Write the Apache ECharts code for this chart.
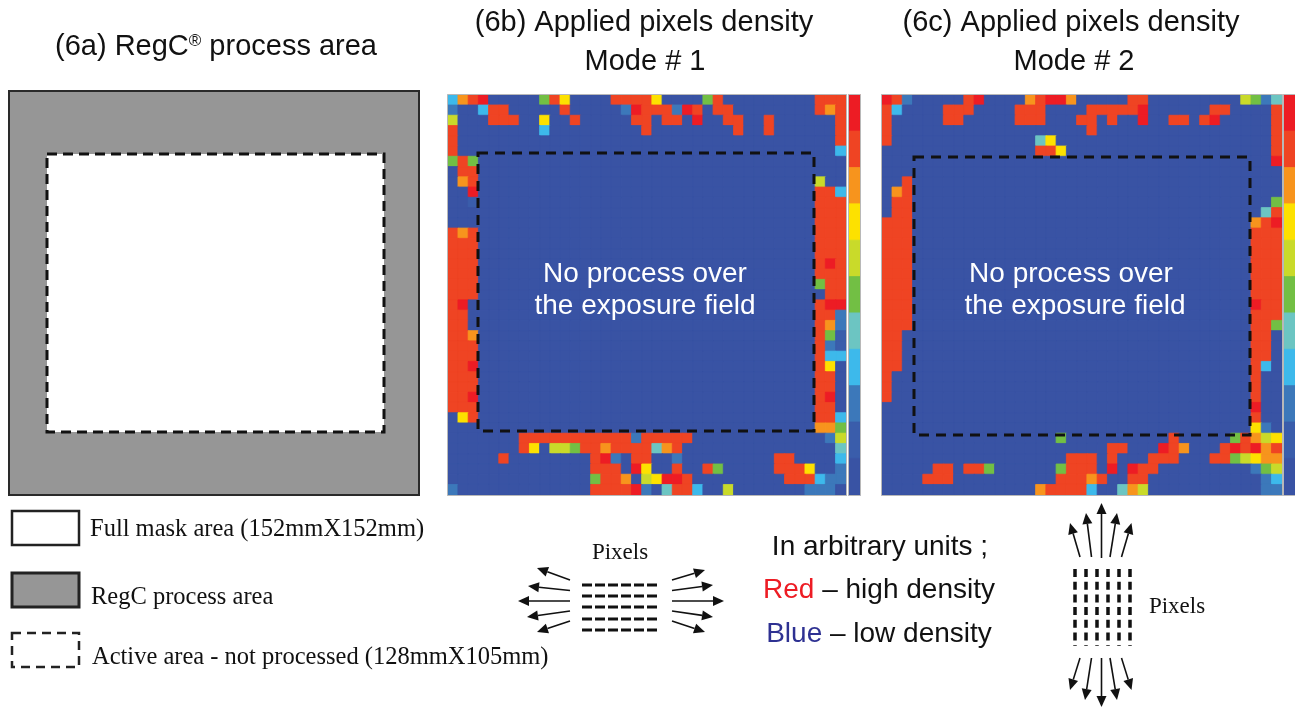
<!DOCTYPE html>
<html><head><meta charset="utf-8">
<script src="https://cdn.jsdelivr.net/npm/echarts@6/dist/echarts.min.js"></script>
<style>html,body{margin:0;padding:0;background:#fff}#c{width:1295px;height:709px}</style>
</head><body><div id="c"></div>
<script>
// ---------- DATA ----------
// density level colours, index 0 (lowest, blue) .. 10 (highest, red)
const levelColors = ['#3953a4','#3a5dab','#3c78ba','#3db9eb','#6cc5c2','#72bf44','#c9da2a','#fde100','#f7941d','#ef4423','#ed1c24'];
const nCols = 39;
const nRows = 39;
// each row: "col:level" or "colFrom-colTo:level" (X = 10); unlisted cells = level 0
const modeOneRows = [
 "0:3 1:8 2:9 3:X 9:5 10:9 11:7 16-19:9 20:7 25:5 26:9 36-38:9",
 "0:2 3:3 4-5:9 11:9 17:2 18:X 19-21:9 22:2 23:X 24:9 26-27:9 36:9 37:8 38:9",
 "0:6 4-6:9 9:7 12:9 18-19:9 21-22:9 24:X 27-28:9 31:9 38:9",
 "0:9 9:3 19:9 28:9 31:9 38:9",
 "0:9 38:9",
 "0:9 38:3",
 "0:5 1:9 2:5",
 "1-2:9",
 "1:8 2:9 36:6",
 "2:X 36-37:9 38:3",
 "2:1 36-38:9",
 "36-38:9",
 "36-38:9",
 "0:9 1:8 2:9 36-38:9",
 "0-2:9 36-38:9",
 "0-2:9 36-38:9",
 "0-2:9 36:9 37:X 38:9",
 "0-2:9 36-38:9",
 "0-2:9 36:5 37-38:9",
 "0-2:9 37-38:9",
 "0:9 1:X 36:9 37-38:X",
 "0-1:9 36-37:9 38:2",
 "0-1:9 36:9 37:8 38:2",
 "0-1:9 2:8 36:9 37:5 38:1",
 "0-2:9 36:9 37:2 38:1",
 "0-2:9 36:9 37:3 38:3",
 "0-1:9 2:X 36:9 37:7",
 "0-2:9 36-37:9",
 "0-2:9 36-37:9",
 "0-1:9 2:X 36:9 37:X",
 "0-2:9 36-37:9",
 "1:7 2:9 36-37:9 38:3",
 "36-37:8 38:5",
 "7-17:9 18:2 19-23:9 37:2 38:6",
 "7:9 8:7 10-11:6 12:5 13-14:9 15:8 16-19:9 20:4 21:8 22:9 38:4",
 "5:9 14:9 15:X 16:2 18-19:9 22:2 32-33:9 38:3",
 "14-16:9 18:X 19:7 22:9 25:9 26:5 32-34:9 35:7 38:2",
 "14:5 15-16:9 17:8 19:6 20:7 21-22:X 23:9 33-35:9 36:3 37-38:2",
 "0:2 14-17:9 18:X 19:2 21:4 22-23:9 24:3 27:6 35-37:2"
];
const modeTwoRows = [
 "0:X 1:9 2:2 8:9 9:X 14:8 15:9 16-17:X 18:8 24-25:9 35:6 36:5 37:2 38:4",
 "0:9 1:3 6-8:9 13-15:9 20-24:9 25:X 32-33:9 38:9",
 "0:9 6-7:9 13-15:9 19-20:9 22:9 25:X 28-29:9 31:9 32:X 38:9",
 "0:9 20:9 38:9",
 "0:9 15:4 16:7 38:9",
 "15-16:9 17:7 38:9",
 "38:X",
 "",
 "2:9",
 "1:8 2:9",
 "1-2:9 38:5",
 "1-2:9 37:4 38:9",
 "0-2:9 36:8 37:9 38:X",
 "0-2:9 36-38:9",
 "0-2:9 36-38:9",
 "0-2:9 36-38:9",
 "0-2:9 36-38:9",
 "0-2:9 36-38:9",
 "0-2:9 36-38:9",
 "0-2:9 36-38:9",
 "0-2:9 36:X 37-38:9",
 "0-2:9 36-38:9",
 "0-2:9 36-37:9 38:5",
 "0-1:9 36-37:9",
 "0-1:9 36-37:9",
 "0-1:9 36-37:9",
 "0-1:9 36:9 37:3",
 "0:9 36:9",
 "0:9 36:9",
 "0:9 36:9",
 "36:X",
 "36:9",
 "36:7 37:2",
 "17:5 28:9 34:5 35:9 36:8 37:6 38:7",
 "22-23:9 27:X 28:9 29:8 33:9 34:X 35:9 36:X 37:8 38:9",
 "18-20:9 22:9 26-28:9 32-33:9 34:5 35:6 36:7 37:8 38:8",
 "5-6:9 8-9:9 10:5 17:5 18-20:9 22:X 24:X 25-26:9 36:2 37:5 38:6",
 "4-6:9 17-19:9 20:8 21:9 24-25:9 37:2 38:3",
 "15:8 16-19:9 20:3 23:4 24:8 25:6 37-38:2"
];
const colorbarLevels = [10,9,8,7,6,5,4,3,2,1,0];
const panelTitles = ['(6a) RegC{s|®} process area', '(6b) Applied pixels density', 'Mode # 1', '(6c) Applied pixels density', 'Mode # 2'];
const fieldNote = ['No process over', 'the exposure field'];
const legendTexts = ['Full mask area (152mmX152mm)', 'RegC process area', 'Active area - not processed (128mmX105mm)'];
const unitTexts = ['In arbitrary units ;', '{r|Red} – high density', '{b|Blue} – low density'];
const pixelsLabel = 'Pixels';

// ---------- BUILD ----------
function parseRows(rows){
  const out=[];
  rows.forEach((s,r)=>{
    const g=new Array(nCols).fill(0);
    s.split(/\s+/).filter(Boolean).forEach(tok=>{
      const [rng,lv]=tok.split(':');
      const parts=rng.split('-').map(Number);
      const a=parts[0], b=parts.length>1?parts[1]:parts[0];
      const v=lv==='X'?10:Number(lv);
      for(let c=a;c<=b;c++) g[c]=v;
    });
    g.forEach((v,c)=>out.push([c,r,v]));
  });
  return out;
}
const withBorder = d => d.map(p=>({value:p,itemStyle:{borderColor:levelColors[p[2]],borderWidth:0.8}}));
const colCats = Array.from({length:nCols},(_,i)=>i);
const rowCats = Array.from({length:nRows},(_,i)=>i);
const cbCats = colorbarLevels.map((_,i)=>i);

const SANS='"Liberation Sans", Arial, sans-serif';
const SERIF='"Liberation Serif", "Times New Roman", serif';
const g=[];
function txt(x,y,text,size,fam,extra){
  g.push({type:'text',x:x,y:y,z:100,style:Object.assign({text:text,fontSize:size,fontFamily:fam,fill:'#111',textAlign:'center',textVerticalAlign:'middle'},extra||{})});
}
function rect(x,y,w,h,style){ g.push({type:'rect',z:100,shape:{x:x,y:y,width:w,height:h},style:style}); }
function arrow(x1,y1,x2,y2){
  const L=11,W=5, a=Math.atan2(y2-y1,x2-x1);
  const bx=x2-L*Math.cos(a), by=y2-L*Math.sin(a), px=-Math.sin(a)*W, py=Math.cos(a)*W;
  g.push({type:'line',z:100,shape:{x1:x1,y1:y1,x2:bx,y2:by},style:{stroke:'#111',lineWidth:1.6}});
  g.push({type:'polygon',z:100,shape:{points:[[x2,y2],[bx+px,by+py],[bx-px,by-py]]},style:{fill:'#111'}});
}
// titles
txt(216,47,panelTitles[0],29,SANS,{rich:{s:{fontSize:17,verticalAlign:'top',fontFamily:SANS,fill:'#111'}}});
txt(644,23,panelTitles[1],29,SANS); txt(645,62,panelTitles[2],29,SANS);
txt(1071,23,panelTitles[3],29,SANS); txt(1074,62,panelTitles[4],29,SANS);
// panel a
rect(9,91,410,404,{fill:'#969696',stroke:'#2a2a2a',lineWidth:2});
rect(47,154,337,278,{fill:'#fff',stroke:'#111',lineWidth:3,lineDash:[10,6]});
// heatmap frames + exposure field
[[447.5,94.5,399,401],[881.5,94.5,401,401],[848.5,94.5,12,401],[1283.5,94.5,14,401]].forEach(r=>rect(r[0],r[1],r[2],r[3],{fill:null,stroke:'#b8b8b8',lineWidth:1}));
rect(478,153,336,278,{fill:null,stroke:'#111',lineWidth:3,lineDash:[10,7]});
rect(914,157,336,278,{fill:null,stroke:'#111',lineWidth:3,lineDash:[10,7]});
txt(645,274,fieldNote[0],28,SANS,{fill:'#fff'}); txt(645,306,fieldNote[1],28,SANS,{fill:'#fff'});
txt(1071,274,fieldNote[0],28,SANS,{fill:'#fff'}); txt(1075,306,fieldNote[1],28,SANS,{fill:'#fff'});
// legend
rect(12,511,67,34,{fill:'#fff',stroke:'#222',lineWidth:2.5});
rect(12,573,67,34,{fill:'#969696',stroke:'#222',lineWidth:3});
rect(12,633,67,34,{fill:null,stroke:'#222',lineWidth:2.5,lineDash:[9,6]});
txt(90,530,legendTexts[0],24.5,SERIF,{textAlign:'left'});
txt(91,598,legendTexts[1],24.5,SERIF,{textAlign:'left'});
txt(92,658,legendTexts[2],24.5,SERIF,{textAlign:'left'});
// units
txt(880,547,unitTexts[0],28,SANS);
txt(879,590,unitTexts[1],28,SANS,{rich:{r:{fill:'#ed1c24',fontSize:28,fontFamily:SANS}}});
txt(879,634,unitTexts[2],28,SANS,{rich:{b:{fill:'#2e3192',fontSize:28,fontFamily:SANS}}});
// horizontal pixels
txt(620,553,pixelsLabel,23,SERIF);
[585,596,607,619,630].forEach(y=>g.push({type:'line',z:100,shape:{x1:582,y1:y,x2:658,y2:y},style:{stroke:'#111',lineWidth:3,lineDash:[10,3]}}));
[[570,580,537,568],[570,590.5,528,586],[570,601,518,601],[570,611,527,617],[570,621,537,632]].forEach(a=>arrow(...a));
[[672,580,705,570],[672,590.5,713,585],[672,601,724,601],[672,611,713,617],[672,621,705,632]].forEach(a=>arrow(...a));
// vertical pixels
txt(1177,607,pixelsLabel,23,SERIF);
[1075,1086,1097,1108,1119,1130].forEach(x=>g.push({type:'line',z:100,shape:{x1:x,y1:569,x2:x,y2:646},style:{stroke:'#111',lineWidth:3.5,lineDash:[8,4.7]}}));
[[1080,557,1070,523],[1091.5,557,1086,513],[1101.5,558,1101.5,503],[1110,557,1117,513],[1121.5,557,1131.5,523]].forEach(a=>arrow(...a));
[[1080,658,1070,690],[1091.5,658,1085,700],[1101.5,658,1101.5,707],[1110,658,1117,700],[1121.5,658,1131.5,690]].forEach(a=>arrow(...a));

const grids=[
  {left:448,top:95,width:398,height:400},
  {left:882,top:95,width:400,height:400},
  {left:849,top:95,width:11,height:400},
  {left:1284,top:95,width:11,height:400}
];
const xAxes=grids.map((_,i)=>({type:'category',gridIndex:i,data:i<2?colCats:[0],show:false}));
const yAxes=grids.map((_,i)=>({type:'category',gridIndex:i,data:i<2?rowCats:cbCats,inverse:true,show:false}));
const hm=(i,data)=>({type:'heatmap',xAxisIndex:i,yAxisIndex:i,data:data,emphasis:{disabled:true},silent:true});

const chart=echarts.init(document.getElementById('c'),null,{renderer:'canvas'});
chart.setOption({
  animation:false,
  backgroundColor:'#fff',
  grid:grids,
  xAxis:xAxes, yAxis:yAxes,
  visualMap:{type:'piecewise',show:false,dimension:2,seriesIndex:[0,1,2,3],
    pieces:levelColors.map((c,i)=>({value:i,color:c}))},
  series:[
    hm(0,withBorder(parseRows(modeOneRows))),
    hm(1,withBorder(parseRows(modeTwoRows))),
    hm(2,withBorder(colorbarLevels.map((v,i)=>[0,i,v]))),
    hm(3,withBorder(colorbarLevels.map((v,i)=>[0,i,v])))
  ],
  graphic:{elements:g}
});
</script></body></html>
